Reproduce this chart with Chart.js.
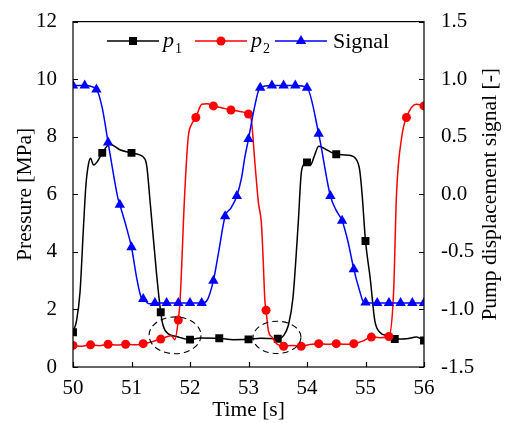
<!DOCTYPE html>
<html>
<head>
<meta charset="utf-8">
<script src="https://cdn.jsdelivr.net/npm/chart.js@4.4.1/dist/chart.umd.min.js"></script>
<style>
  html, body { margin: 0; padding: 0; background: #fff; }
  #wrap { width: 507px; height: 423px; }
</style>
</head>
<body>
<div id="wrap"><canvas id="chart" width="507" height="423"></canvas></div>
<script>
// chamber pressure p1 [MPa]
const p1Time = [50.00, 50.06, 50.12, 50.18, 50.22, 50.26, 50.30, 50.35, 50.42, 50.50, 50.63, 50.80, 51.00, 51.15,
  51.20, 51.26, 51.32, 51.43, 51.50, 51.54, 51.63, 51.77, 52.00, 52.17, 52.50, 52.74, 53.00, 53.20, 53.50, 53.60,
  53.68, 53.76, 53.85, 53.90, 53.95, 54.00, 54.06, 54.12, 54.20, 54.35, 54.50, 54.70, 54.85, 54.90, 54.94, 55.00,
  55.08, 55.16, 55.25, 55.36, 55.50, 55.70, 55.87, 56.00];
const p1Value = [1.21, 1.6, 2.6, 4.9, 6.3, 7.0, 7.25, 7.02, 7.15, 7.44, 7.74, 7.55, 7.44, 7.36,
  7.3, 7.0, 5.7, 3.2, 1.9, 1.44, 1.15, 1.06, 0.95, 1.01, 1.0, 0.95, 0.96, 1.0, 0.98, 1.09,
  1.44, 2.4, 5.0, 6.7, 7.05, 7.11, 7.02, 7.3, 7.67, 7.53, 7.39, 7.36, 7.19, 6.85, 6.05, 4.38,
  3.09, 1.6, 1.2, 1.09, 0.97, 0.98, 1.04, 0.92];
const p1Marks = [50.0, 50.5, 51.0, 51.5, 52.0, 52.5, 53.0, 53.5, 54.0, 54.5, 55.0, 55.5, 56.0];

// chamber pressure p2 [MPa]
const p2Time = [50.00, 50.15, 50.30, 50.45, 50.60, 50.75, 50.90, 51.05, 51.20, 51.35, 51.50, 51.60, 51.68, 51.74,
  51.80, 51.83, 51.91, 51.97, 52.03, 52.10, 52.20, 52.29, 52.40, 52.55, 52.70, 52.85, 53.00, 53.05, 53.11, 53.17,
  53.22, 53.25, 53.28, 53.30, 53.34, 53.40, 53.48, 53.60, 53.75, 53.90, 54.05, 54.20, 54.35, 54.50, 54.65, 54.80,
  54.95, 55.10, 55.25, 55.40, 55.48, 55.53, 55.62, 55.70, 55.87, 56.00];
const p2Value = [0.75, 0.72, 0.77, 0.74, 0.79, 0.76, 0.79, 0.77, 0.81, 0.88, 0.97, 1.05, 1.09, 0.95,
  1.63, 2.3, 6.05, 7.99, 8.44, 8.67, 9.13, 9.15, 9.07, 9.0, 8.93, 8.88, 8.79, 8.56, 7.08, 5.7,
  5.0, 3.77, 2.3, 1.97, 1.26, 1.04, 0.81, 0.72, 0.75, 0.72, 0.78, 0.81, 0.79, 0.81, 0.79, 0.81,
  0.9, 1.04, 1.02, 1.06, 2.6, 6.0, 8.0, 8.67, 9.13, 9.07];
const p2Marks = [50.0, 50.3, 50.6, 50.9, 51.2, 51.5, 51.8, 52.1, 52.4, 52.7, 53.0, 53.3, 53.6, 53.9, 54.2, 54.5,
  54.8, 55.1, 55.4, 55.7, 56.0];

// pump displacement signal [-]
const sigTime = [50.0, 50.2, 50.4, 50.5, 50.6, 50.7, 50.77, 50.8, 50.92, 51.0, 51.09, 51.17, 51.2, 51.3, 51.4,
  51.6, 51.8, 52.0, 52.2, 52.28, 52.4, 52.49, 52.6, 52.7, 52.8, 52.88, 52.94, 53.0, 53.08, 53.17, 53.2, 53.4, 53.6,
  53.8, 54.0, 54.2, 54.4, 54.5, 54.6, 54.7, 54.8, 54.9, 54.96, 55.0, 55.2, 55.4, 55.6, 55.8, 56.0];
const sigValue = [0.944, 0.944, 0.91, 0.75, 0.45, 0.15, -0.04, -0.09, -0.30, -0.46, -0.73, -0.90, -0.91, -0.95, -0.945,
  -0.945, -0.945, -0.945, -0.945, -0.93, -0.75, -0.5, -0.19, -0.12, -0.015, 0.14, 0.33, 0.48, 0.70, 0.90, 0.925, 0.944, 0.944,
  0.944, 0.925, 0.525, -0.015, -0.14, -0.23, -0.41, -0.65, -0.84, -0.93, -0.94, -0.945, -0.945, -0.945, -0.945, -0.945];
const sigMarks = [50.0, 50.2, 50.4, 50.6, 50.8, 51.0, 51.2, 51.4, 51.6, 51.8, 52.0, 52.2, 52.4, 52.6, 52.8, 53.0,
  53.2, 53.4, 53.6, 53.8, 54.0, 54.2, 54.4, 54.6, 54.8, 55.0, 55.2, 55.4, 55.6, 55.8, 56.0];

const timeTicks = [50, 51, 52, 53, 54, 55, 56];
const pressureTicks = [0, 2, 4, 6, 8, 10, 12];
const signalTicks = [-1.5, -1.0, -0.5, 0.0, 0.5, 1.0, 1.5];

const FONT = "'Liberation Serif', 'Times New Roman', serif";
const INK = "#000";

function series(times, values) {
  return times.map((t, i) => ({ x: t, y: values[i] }));
}

function markRadius(marks, r) {
  return (ctx) => {
    const x = ctx.raw && ctx.raw.x;
    return marks.some((m) => Math.abs(m - x) < 1e-6) ? r : 0;
  };
}

function lineSet(label, times, values, marks, color, pointStyle, r, axis, order) {
  return {
    label,
    data: series(times, values),
    yAxisID: axis,
    borderColor: color,
    backgroundColor: color,
    borderWidth: 1.5,
    cubicInterpolationMode: "monotone",
    pointStyle,
    pointRadius: markRadius(marks, r),
    pointHoverRadius: 0,
    pointBorderWidth: 0,
    order,
  };
}

// kotak, sumbu dengan tick ke dalam, elips putus-putus, legenda dan judul sumbu
const framePlugin = {
  id: "frame",
  afterDatasetsDraw(chart) {
    const { ctx, chartArea: a, scales } = chart;
    ctx.save();
    ctx.strokeStyle = INK;
    ctx.lineWidth = 1.2;
    ctx.strokeRect(a.left, a.top, a.right - a.left, a.bottom - a.top);

    ctx.beginPath();
    timeTicks.forEach((v) => {
      const px = Math.round(scales.x.getPixelForValue(v)) + 0.5;
      ctx.moveTo(px, a.bottom);
      ctx.lineTo(px, a.bottom - 5);
    });
    pressureTicks.forEach((v) => {
      const py = Math.round(scales.y.getPixelForValue(v)) + 0.5;
      ctx.moveTo(a.left, py);
      ctx.lineTo(a.left + 5, py);
    });
    signalTicks.forEach((v) => {
      const py = Math.round(scales.y2.getPixelForValue(v)) + 0.5;
      ctx.moveTo(a.right, py);
      ctx.lineTo(a.right - 5, py);
    });
    ctx.stroke();

    // elips penanda di sekitar titik perpotongan
    const rings = [
      { t: 51.744, p: 1.10, dt: 0.444, dp: 0.64 },
      { t: 53.487, p: 1.03, dt: 0.41, dp: 0.56 },
    ];
    ctx.setLineDash([6, 4]);
    ctx.lineWidth = 1.1;
    rings.forEach((e) => {
      const cx = scales.x.getPixelForValue(e.t);
      const cy = scales.y.getPixelForValue(e.p);
      const rx = scales.x.getPixelForValue(e.t + e.dt) - cx;
      const ry = cy - scales.y.getPixelForValue(e.p + e.dp);
      ctx.beginPath();
      ctx.ellipse(cx, cy, rx, ry, 0, 0, Math.PI * 2);
      ctx.stroke();
    });
    ctx.restore();
  },
  afterDraw(chart) {
    const { ctx, chartArea: a } = chart;
    ctx.save();
    ctx.fillStyle = INK;

    // judul sumbu
    ctx.font = `21.5px ${FONT}`;
    ctx.textAlign = "center";
    ctx.textBaseline = "middle";
    ctx.fillText("Time [s]", (a.left + a.right) / 2, 410);

    ctx.save();
    ctx.translate(25, (a.top + a.bottom) / 2);
    ctx.rotate(-Math.PI / 2);
    ctx.fillText("Pressure [MPa]", 0, 0);
    ctx.restore();

    ctx.save();
    ctx.translate(490, (a.top + a.bottom) / 2);
    ctx.rotate(-Math.PI / 2);
    ctx.fillText("Pump displacement signal [-]", 0, 0);
    ctx.restore();

    // legenda
    const items = [
      { x: 107, color: "#000000", style: "rect", name: "p", sub: "1" },
      { x: 195, color: "#ff0000", style: "circle", name: "p", sub: "2" },
      { x: 275, color: "#0000ff", style: "triangle", name: "Signal", sub: "" },
    ];
    const y = 41;
    items.forEach((it) => {
      ctx.strokeStyle = it.color;
      ctx.fillStyle = it.color;
      ctx.lineWidth = 1.5;
      ctx.beginPath();
      ctx.moveTo(it.x, y);
      ctx.lineTo(it.x + 52, y);
      ctx.stroke();
      const mx = it.x + 26;
      ctx.beginPath();
      if (it.style === "rect") {
        ctx.rect(mx - 4, y - 4, 8, 8);
      } else if (it.style === "circle") {
        ctx.arc(mx, y, 4.5, 0, Math.PI * 2);
      } else {
        ctx.moveTo(mx, y - 6);
        ctx.lineTo(mx + 5.2, y + 3);
        ctx.lineTo(mx - 5.2, y + 3);
        ctx.closePath();
      }
      ctx.fill();

      ctx.fillStyle = INK;
      ctx.textAlign = "left";
      ctx.textBaseline = "alphabetic";
      const tx = it.x + 56;
      if (it.sub) {
        ctx.font = `italic 22px ${FONT}`;
        ctx.fillText(it.name, tx, y + 6);
        const w = ctx.measureText(it.name).width;
        ctx.font = `14px ${FONT}`;
        ctx.fillText(it.sub, tx + w + 1, y + 12);
      } else {
        ctx.font = `22px ${FONT}`;
        ctx.fillText(it.name, tx + 2, y + 7);
      }
    });
    ctx.restore();
  },
};

const tickFont = { family: FONT, size: 21 };

new Chart(document.getElementById("chart"), {
  type: "line",
  data: {
    datasets: [
      lineSet("p1", p1Time, p1Value, p1Marks, "#000000", "rect", 5.6, "y", 2),
      lineSet("p2", p2Time, p2Value, p2Marks, "#ff0000", "circle", 4.5, "y", 1),
      lineSet("Signal", sigTime, sigValue, sigMarks, "#0000ff", "triangle", 6, "y2", 0),
    ],
  },
  plugins: [framePlugin],
  options: {
    responsive: false,
    animation: false,
    events: [],
    layout: { padding: { top: 16, left: 0, right: 0, bottom: 0 } },
    plugins: { legend: { display: false }, tooltip: { enabled: false } },
    scales: {
      x: {
        type: "linear",
        min: 50,
        max: 56,
        grid: { display: false },
        border: { display: false },
        afterBuildTicks: (s) => { s.ticks = timeTicks.map((v) => ({ value: v })); },
        ticks: { font: tickFont, color: INK, padding: 1, maxRotation: 0 },
        afterFit: (s) => { s.height = 56; },
      },
      y: {
        position: "left",
        min: 0,
        max: 12,
        grid: { display: false },
        border: { display: false },
        afterBuildTicks: (s) => { s.ticks = pressureTicks.map((v) => ({ value: v })); },
        ticks: { font: tickFont, color: INK, padding: 8 },
        afterFit: (s) => { s.width = 73; },
      },
      y2: {
        position: "right",
        min: -1.5,
        max: 1.5,
        grid: { display: false },
        border: { display: false },
        afterBuildTicks: (s) => { s.ticks = signalTicks.map((v) => ({ value: v })); },
        ticks: { font: tickFont, color: INK, padding: 9, callback: (v) => Number(v).toFixed(1) },
        afterFit: (s) => { s.width = 83; },
      },
    },
  },
});
</script>
</body>
</html>
